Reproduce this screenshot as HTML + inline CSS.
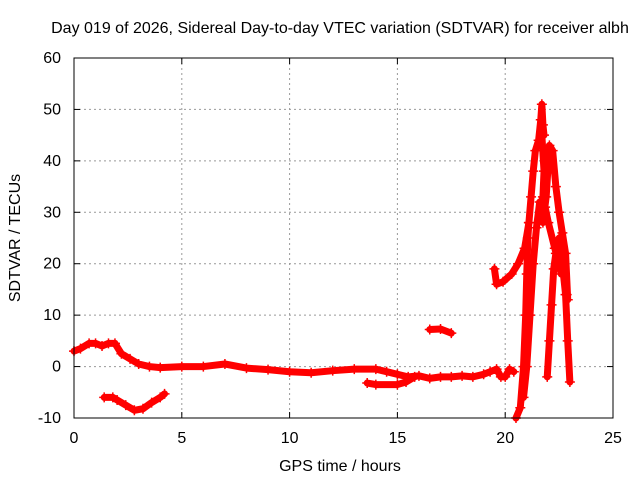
<!DOCTYPE html>
<html><head><meta charset="utf-8"><style>
body{margin:0;background:#fff;}
svg text{font-family:"Liberation Sans",sans-serif;font-size:16px;fill:#000;}
</style></head><body>
<svg id="chart" width="640" height="480">
<text x="340" y="33" text-anchor="middle">Day 019 of 2026, Sidereal Day-to-day VTEC variation (SDTVAR) for receiver albh</text>
<text x="340" y="471" text-anchor="middle">GPS time / hours</text>
<text transform="translate(20,238) rotate(-90)" text-anchor="middle">SDTVAR / TECUs</text>
<g id="grid"></g><g id="series"></g>
<rect x="74" y="58" width="539" height="360" fill="none" stroke="#000" stroke-width="1"/>
<g id="ticks"></g>
</svg>
<script>
const xTicks=[0,5,10,15,20,25];
const yTicks=[-10,0,10,20,30,40,50,60];
const mainT=[0,0.3,0.7,1,1.3,1.6,1.9,2.2,2.6,3,3.5,4,5,6,7,8,9,10,11,12,13,14,14.5,15,15.5,16,16.5,17,17.5,18,18.5,19,19.3,19.6,19.8,20,20.2,20.4];
const mainV=[3,3.5,4.5,4.5,4,4.5,4.5,2.5,1.5,0.5,0,-0.2,0,0,0.5,-0.3,-0.6,-1,-1.2,-0.8,-0.5,-0.5,-1,-1.5,-2,-1.8,-2.3,-2,-2,-1.8,-2,-1.5,-1,-0.5,-2,-2,-0.5,-1];
const dipT=[1.4,1.8,2,2.4,2.8,3.2,3.6,4,4.2];
const dipV=[-6,-6,-6.5,-7.5,-8.5,-8.2,-7,-6,-5.3];
const lowT=[13.6,14,15,15.4,15.8];
const lowV=[-3.2,-3.5,-3.5,-3,-2];
const islandT=[16.5,17,17.5];
const islandV=[7.2,7.3,6.5];
const riseT=[19.5,19.6,19.9,20.3,20.6,20.9,21.1,21.2,21.3,21.4,21.55,21.65,21.7,21.75,21.8];
const riseV=[19,16,16.5,18,20,23,28,33,38,42,44,48,51,47,45];
const steepT=[20.5,20.7,20.85,20.95,21.0,21.05,21.1];
const steepV=[-10,-8,0,10,18,25,28];
const strandGT=[20.85,21.0,21.15,21.3,21.45,21.6,21.75,21.9,22.05,22.2,22.35,22.5,22.65,22.8,22.9];
const strandGV=[-6,0,10,20,27,32,28,33,43,42,35,30,26,22,13];
const strandHT=[21.95,22.05,22.15,22.25,22.35,22.5,22.65,22.8,22.9,23.0];
const strandHV=[-2,5,12,19,22,25,20,14,5,-3];
const strandIT=[21.7,21.8,21.75,21.7,21.85,22.0,22.3,22.6,22.75,22.85];
const strandIV=[45,38,33,30,31,28,23,18,18,14];
const X=t=>74+t*539/25, Y=v=>418-(v+10)*360/70;
const NS="http://www.w3.org/2000/svg";
const grid=document.getElementById('grid'),tk=document.getElementById('ticks'),sg=document.getElementById('series');
function mk(tag,attrs,parent){const e=document.createElementNS(NS,tag);for(const k in attrs)e.setAttribute(k,attrs[k]);parent.appendChild(e);return e;}
xTicks.forEach(t=>{const x=X(t);
 if(t>0&&t<25){const g=mk('line',{x1:x,x2:x,y1:58,y2:418,stroke:'#999','stroke-dasharray':'2,3'},grid);
 
 }
 mk('line',{x1:x,x2:x,y1:418,y2:412,stroke:'#000'},tk);mk('line',{x1:x,x2:x,y1:58,y2:64,stroke:'#000'},tk);
 const l=mk('text',{x:x,y:443,'text-anchor':'middle'},tk);l.textContent=t;
 
 });
yTicks.forEach(v=>{const y=Y(v);
 if(v>-10&&v<60){const g=mk('line',{x1:74,x2:613,y1:y,y2:y,stroke:'#999','stroke-dasharray':'2,3'},grid);
 
 }
 mk('line',{x1:74,x2:80,y1:y,y2:y,stroke:'#000'},tk);mk('line',{x1:613,x2:607,y1:y,y2:y,stroke:'#000'},tk);
 const l=mk('text',{x:61,y:y+5,'text-anchor':'end'},tk);l.textContent=v;
 
 });
const all=[[mainT,mainV,'main'],[dipT,dipV,'dip'],[lowT,lowV,'low'],[islandT,islandV,'island'],[riseT,riseV,'rise'],[steepT,steepV,'steep'],[strandGT,strandGV,'strand-g'],[strandHT,strandHV,'strand-h'],[strandIT,strandIV,'strand-i']];
all.forEach(([ts,vs,n])=>{
 const pts=ts.map((t,i)=>X(t)+','+Y(vs[i])).join(' ');
 const pl=mk('polyline',{points:pts,fill:'none',stroke:'#f00','stroke-width':7,'stroke-linejoin':'round','stroke-linecap':'round'},sg);
 
 
 ts.forEach((t,i)=>{const x=X(t),y=Y(vs[i]);
  const p=mk('path',{d:`M${x-5},${y}H${x+5}M${x},${y-5}V${y+5}`,stroke:'#f00','stroke-width':1.5},sg);
  
  });
});
</script>
</body></html>
